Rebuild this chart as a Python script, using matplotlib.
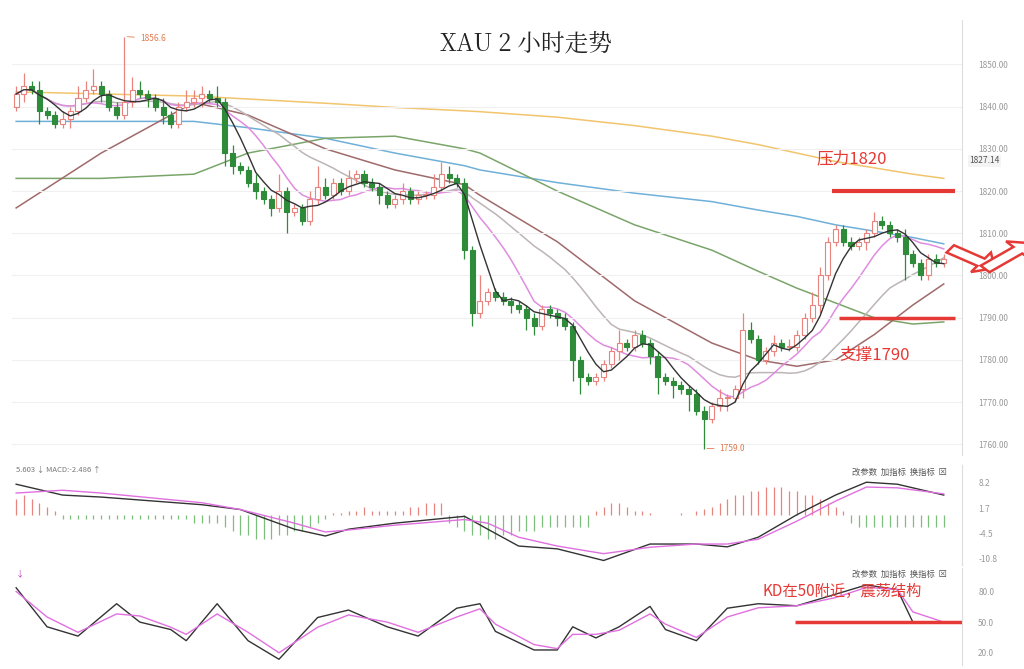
import numpy as np
import pandas as pd
import matplotlib
matplotlib.use("Agg")
import matplotlib.pyplot as plt
from matplotlib.patches import FancyArrow

plt.rcParams['font.family'] = ['Noto Sans CJK SC', 'DejaVu Sans']

# closes per 2h candle (open = previous close)
closes = [1843, 1845, 1844, 1839, 1838, 1836, 1837, 1839, 1842, 1844, 1845, 1843, 1840, 1838,
          1841, 1844, 1843, 1842, 1840, 1838, 1836, 1840, 1841, 1842, 1843, 1842, 1841,
          1829, 1826, 1825, 1822, 1820, 1818, 1816, 1820, 1815, 1816, 1813, 1818, 1821, 1819,
          1822, 1820, 1823, 1824, 1822, 1821, 1819, 1817, 1818, 1820, 1818, 1819, 1819, 1821,
          1824, 1823, 1822, 1806, 1791, 1794, 1796, 1795, 1794, 1793, 1792, 1790, 1788, 1792,
          1791, 1790, 1788, 1780, 1776, 1775, 1776, 1779, 1782, 1784, 1783, 1786, 1784, 1781,
          1776, 1775, 1774, 1773, 1772, 1768, 1766, 1769, 1771, 1771, 1773, 1787, 1785, 1780,
          1782, 1784, 1783, 1783, 1786, 1790, 1793, 1800, 1808, 1811, 1808, 1807, 1808, 1810,
          1813, 1812, 1810, 1809, 1805, 1803, 1800, 1804, 1803, 1804]
first_open = 1840
upper_wick = [2, 3, 1, 2, 1, 1, 2, 1, 3, 2, 4, 1, 1, 1, 15.6, 3, 2, 1, 1, 2, 1, 1, 3, 2, 2, 1, 3,
              1, 2, 1, 1, 2, 1, 1, 4, 1, 1, 1, 2, 5, 2, 1, 1, 2, 1, 1, 1, 1, 1, 1, 2, 1, 1, 1, 3,
              3, 2, 1, 1, 1, 6, 1, 1, 1, 1, 1, 1, 1, 1, 1, 1, 1, 1, 1, 1, 1, 1, 1, 3, 1, 1, 1, 1,
              1, 1, 1, 1, 1, 1, 1, 1, 2, 1, 1, 4, 2, 1, 1, 2, 1, 2, 1, 1, 3, 2, 1, 1, 1, 1, 1, 1,
              2, 1, 1, 1, 2, 1, 1, 1, 1, 1]
lower_wick = [1, 2, 1, 3, 1, 1, 1, 2, 1, 1, 1, 2, 1, 1, 1, 1, 1, 2, 1, 2, 1, 1, 1, 1, 2, 1, 1,
              3, 2, 1, 1, 2, 1, 2, 1, 5, 1, 1, 1, 1, 1, 1, 1, 1, 1, 1, 1, 2, 1, 1, 1, 1, 1, 1, 1,
              1, 1, 1, 2, 3, 1, 1, 1, 1, 2, 1, 3, 2, 1, 1, 2, 1, 5, 4, 1, 1, 1, 1, 2, 1, 1, 1, 2,
              4, 1, 3, 1, 4, 1, 7, 1, 1, 3, 1, 2, 1, 1, 1, 1, 1, 1, 1, 1, 1, 2, 1, 1, 1, 1, 1, 2,
              1, 1, 1, 1, 6, 1, 1, 1, 1, 1]

# long moving averages at sample candle indices
ma_idx = [0, 11, 23, 30, 40, 49, 58, 60, 70, 80, 90, 96, 101, 106, 111, 116, 120]
ma_yellow = [1843.5, 1843.0, 1842.5, 1841.8, 1840.8, 1839.8, 1839.0, 1838.8, 1837.5, 1835.5,
             1833.0, 1831.0, 1829.0, 1827.0, 1825.5, 1824.0, 1823.0]
ma_blue = [1836.5, 1836.5, 1836.5, 1835.0, 1832.5, 1829.0, 1826.0, 1825.0, 1822.0, 1819.5,
           1817.5, 1815.5, 1814.0, 1812.0, 1810.5, 1809.0, 1807.5]
ma_green = [1823.0, 1823.0, 1824.0, 1829.0, 1832.5, 1833.0, 1830.0, 1829.0, 1820.0, 1812.0,
            1806.0, 1801.0, 1797.0, 1793.5, 1790.0, 1788.5, 1789.0]
ma_brown = [1816.0, 1829.0, 1841.0, 1838.0, 1830.0, 1825.0, 1821.5, 1819.0, 1808.0, 1794.0,
            1784.0, 1780.0, 1778.5, 1780.0, 1786.0, 1793.0, 1798.0]

# MACD (DIF / DEA) and histogram
macd_idx = [0, 6, 11, 24, 29, 36, 40, 43, 49, 58, 61, 65, 70, 76, 82, 88, 92, 96, 101, 106,
            110, 114, 120]
dif = [7.7, 5.0, 4.5, 2.6, 1.4, -3.5, -5.2, -3.5, -2.0, -0.3, -3.5, -7.7, -8.4, -11.3, -7.2,
       -7.2, -7.9, -5.5, 0.1, 5.0, 8.2, 7.7, 5.0]
dea = [5.5, 6.2, 5.5, 3.1, 1.4, -2.0, -4.2, -3.7, -2.5, -1.1, -2.0, -5.5, -7.7, -9.6, -8.0,
       -7.2, -7.2, -6.0, -1.5, 3.5, 7.0, 6.8, 5.3]
hist = [4, 5, 4, 3, 2, 1, -1, -1, -1, -1, -1, -1, -1, -1, -1, -1, -1, -1, -1, -1, -1, -1, -1,
        -2, -2, -2, -2, -3, -4, -5, -5, -6, -6, -6, -5, -5, -4, -4, -3, -2, -1, 0.5, 0.5, 1,
        1, 2, 1, 1, 1, 1, 1, 2, 2, 3, 3, 3, -2, -3, -4, -5, -5, -6, -6, -5, -5, -4, -4, -4,
        -3, -3, -3, -3, -3, -3, -3, 1, 2, 3, 3, 2, 1, 1, 0.5, 0, 0, 0, 0.5, 0, 1, 1.5, 2, 3,
        4, 5, 5, 6, 6, 7, 7, 7, 6, 6, 5, 5, 4, 3, 2, 1, -2, -3, -3, -3, -3, -3, -3, -3, -3, -3,
        -3, -3, -3]

# KD
kd_idx = [0, 4, 8, 13, 16, 20, 22, 26, 30, 34, 39, 43, 48, 52, 57, 60, 62, 67, 70, 72, 75,
          78, 82, 84, 88, 92, 96, 101, 106, 110, 114, 116, 120]
k_vals = [83.6, 45.4, 36.3, 68.0, 50.0, 42.7, 31.8, 68.0, 31.8, 13.6, 54.5, 61.8, 45.4, 36.3,
          63.6, 68.0, 40.9, 22.7, 22.7, 45.4, 34.5, 45.4, 65.4, 42.7, 31.8, 63.6, 68.0, 66.0,
          77.3, 86.4, 81.8, 50.0, 50.0]
d_vals = [80.0, 55.0, 40.0, 58.0, 56.0, 45.0, 38.0, 58.0, 40.0, 20.0, 45.0, 57.0, 50.0, 40.0,
          55.0, 63.0, 48.0, 28.0, 24.0, 38.0, 38.0, 42.0, 58.0, 48.0, 35.0, 55.0, 64.0, 66.0,
          74.0, 84.0, 82.0, 60.0, 50.0]

n = min(len(closes), len(upper_wick), len(lower_wick))
x = np.arange(n)
opens = [first_open] + closes[:-1]
highs = [max(o, c) + u for o, c, u in zip(opens, closes, upper_wick)]
lows = [min(o, c) - l for o, c, l in zip(opens, closes, lower_wick)]
cs = pd.Series(closes)
ma5 = cs.rolling(5, min_periods=1).mean()
ma10 = cs.rolling(10, min_periods=1).mean()
ma20 = cs.rolling(20, min_periods=1).mean()

RED = "#e9837e"
GREEN = "#2e8b3a"
xlim = (-0.5, 122.3)

fig = plt.figure(figsize=(10.24, 6.69), dpi=100)
ax = fig.add_axes([0.012, 0.32, 0.927, 0.65])
ax_m = fig.add_axes([0.012, 0.155, 0.927, 0.15])
ax_k = fig.add_axes([0.012, 0.006, 0.927, 0.145])

# --- price panel
for i in range(n):
    o, c = opens[i], closes[i]
    up = c >= o
    col = RED if up else GREEN
    ax.vlines(x[i], lows[i], highs[i], color=col, linewidth=0.9, zorder=2)
    body = max(abs(c - o), 0.3)
    ax.bar(x[i], body, bottom=min(o, c), width=0.65, color="white" if up else GREEN,
           edgecolor=col, linewidth=0.8, zorder=3)

cx = np.arange(len(closes))
ax.plot(ma_idx, ma_yellow, color="#f2c46d", lw=1.1, zorder=1)
ax.plot(ma_idx, ma_blue, color="#6fb0d8", lw=1.1, zorder=1)
ax.plot(ma_idx, ma_green, color="#7aa56a", lw=1.1, zorder=1)
ax.plot(ma_idx, ma_brown, color="#a06a6a", lw=1.1, zorder=1)
ax.plot(cx, ma20, color="#bdb5b5", lw=1.1, zorder=1)
ax.plot(cx, ma10, color="#e08ce0", lw=1.1, zorder=1)
ax.plot(cx, ma5, color="#333333", lw=1.0, zorder=4)

ax.hlines(1820, 105.5, 121.5, color="#e53935", lw=3)
ax.hlines(1790, 106.5, 121.5, color="#e53935", lw=2.5)
ax.text(103.5, 1826.5, "压力1820", color="#e53935", fontsize=12)
ax.text(106.5, 1780, "支撑1790", color="#e53935", fontsize=12)
ax.text(66, 1855, "XAU 2 小时走势", color="#222222", fontsize=17, ha="center", va="center",
        family=["Noto Serif CJK SC", "Noto Sans CJK SC", "DejaVu Serif"])
ax.annotate("1856.6", xy=(14, 1856.6), xytext=(16, 1855.6), fontsize=6, color="#e07b4f",
            arrowprops=dict(arrowstyle="-", color="#e07b4f", lw=0.6))
ax.annotate("1759.0", xy=(89, 1759), xytext=(91, 1759), fontsize=6, color="#e07b4f", va="center",
            arrowprops=dict(arrowstyle="-", color="#e07b4f", lw=0.6))

ax.set_xlim(*xlim)
ax.set_ylim(1757.5, 1860.5)
ax.set_yticks([1760, 1770, 1780, 1790, 1800, 1810, 1820, 1830, 1840, 1850])
ax.grid(axis="y", color="#f0f0f0", lw=0.8)
ax.yaxis.tick_right()
ax.set_yticklabels([f"{v:.2f}" for v in ax.get_yticks()], fontsize=6, color="#999999")
ax.text(1.008, (1827.14 - 1757.5) / 103, "1827.14", transform=ax.transAxes, fontsize=6,
        color="#555555", va="center",
        bbox=dict(boxstyle="square,pad=0.15", fc="#f4f4f4", ec="none"))

# --- MACD panel
hx = np.arange(len(hist))
hcol = [RED if h > 0 else "#7cbf7c" for h in hist]
ax_m.vlines(hx, 0, hist, colors=hcol, lw=0.9)
ax_m.plot(macd_idx, dif, color="#333333", lw=1.0)
ax_m.plot(macd_idx, dea, color="#e070e0", lw=1.0)
ax_m.set_xlim(*xlim)
ax_m.set_ylim(-12.5, 12.5)
ax_m.set_yticks([8.2, 1.7, -4.5, -10.8])
ax_m.yaxis.tick_right()
ax_m.set_yticklabels(["8.2", "1.7", "-4.5", "-10.8"], fontsize=6, color="#999999")
ax_m.text(0, 11.3, "5.603 ↓ MACD:-2.486 ↑", fontsize=5.5, color="#777777", va="center")
ax_m.text(0.985, 0.93, "改参数  加指标  换指标  ⊠", transform=ax_m.transAxes, fontsize=6,
          color="#555555", ha="right", va="center")

# --- KD panel
ax_k.plot(kd_idx, k_vals, color="#333333", lw=1.0)
ax_k.plot(kd_idx, d_vals, color="#e070e0", lw=1.0)
ax_k.hlines(50, 100.8, 122.3, color="#e53935", lw=2.5)
ax_k.text(96.5, 76, "KD在50附近，震荡结构", color="#e53935", fontsize=11)
ax_k.set_xlim(*xlim)
ax_k.set_ylim(8, 103)
ax_k.set_yticks([80, 50, 20])
ax_k.yaxis.tick_right()
ax_k.set_yticklabels(["80.0", "50.0", "20.0"], fontsize=6, color="#999999")
ax_k.text(0.985, 0.93, "改参数  加指标  换指标  ⊠", transform=ax_k.transAxes, fontsize=6,
          color="#555555", ha="right", va="center")
ax_k.text(0, 97, "↓", fontsize=6, color="#c040c0", va="center")

for a in (ax, ax_m, ax_k):
    a.set_xticks([])
    a.tick_params(axis="y", length=0, pad=12)
    for side in ("top", "left", "bottom"):
        a.spines[side].set_visible(False)
    a.spines["right"].set_color("#dddddd")

# hollow red arrows at the right edge
fig.patches.append(FancyArrow(0.928, 0.628, 0.03, -0.02, width=0.013, head_width=0.035,
                              head_length=0.016, transform=fig.transFigure,
                              fc="white", ec="#e53935", lw=1.8))
fig.patches.append(FancyArrow(0.962, 0.598, 0.032, 0.028, width=0.013, head_width=0.035,
                              head_length=0.016, transform=fig.transFigure,
                              fc="white", ec="#e53935", lw=1.8))

fig.savefig("out.png", dpi=100, facecolor="white")
